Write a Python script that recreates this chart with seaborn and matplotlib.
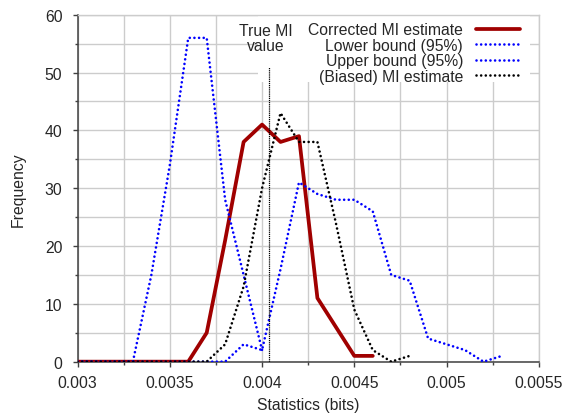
import numpy as np
import pandas as pd
import matplotlib
matplotlib.use("Agg")
import matplotlib.pyplot as plt
import seaborn as sns
from matplotlib.ticker import FixedLocator, FuncFormatter
from matplotlib.patches import Rectangle

#---------Data----------------------------------
corrected_x = [0.003, 0.0031, 0.0032, 0.0033, 0.0034, 0.0035, 0.0036, 0.0037, 0.0038,
               0.0039, 0.004, 0.0041, 0.0042, 0.0043, 0.0044, 0.0045, 0.0046]
corrected_y = [0, 0, 0, 0, 0, 0, 0, 5, 21, 38, 41, 38, 39, 11, 6, 1, 1]

lower_x = [0.003, 0.0031, 0.0032, 0.0033, 0.0034, 0.0035, 0.0036, 0.0037, 0.0038,
           0.0039, 0.004]
lower_y = [0, 0, 0, 0, 15, 34, 56, 56, 28, 15, 2]

upper_x = [0.003, 0.0031, 0.0032, 0.0033, 0.0034, 0.0035, 0.0036, 0.0037, 0.0038,
           0.0039, 0.004, 0.0041, 0.0042, 0.0043, 0.0044, 0.0045, 0.0046, 0.0047,
           0.0048, 0.0049, 0.005, 0.0051, 0.0052, 0.0053]
upper_y = [0, 0, 0, 0, 0, 0, 0, 0, 0, 3, 2, 16, 31, 29, 28, 28, 26, 15, 14, 4, 3, 2, 0, 1]

biased_x = [0.003, 0.0031, 0.0032, 0.0033, 0.0034, 0.0035, 0.0036, 0.0037, 0.0038,
            0.0039, 0.004, 0.0041, 0.0042, 0.0043, 0.0044, 0.0045, 0.0046, 0.0047, 0.0048]
biased_y = [0, 0, 0, 0, 0, 0, 0, 0, 3, 13, 30, 43, 38, 38, 24, 9, 2, 0, 1]

true_mi = 0.00404
true_mi_line_top = 51

labels = ["Corrected MI estimate", "Lower bound (95%)", "Upper bound (95%)", "(Biased) MI estimate"]
xticks = [0.003, 0.0035, 0.004, 0.0045, 0.005, 0.0055]
yticks = [0, 10, 20, 30, 40, 50, 60]

#---------Style-----------
sns.set_style("white")
plt.rcParams["font.family"] = ["Liberation Sans", "DejaVu Sans"]
plt.rcParams["font.size"] = 11.3

fig = plt.figure(figsize=(5.66, 4.14), dpi=100)
ax = fig.add_axes([0.137, 0.124, 0.815, 0.838])

dots = (0, (0.01, 1.75))
dot_kw = dict(lw=1.9, linestyle=dots, dash_capstyle="round", zorder=4)

sns.lineplot(data=pd.DataFrame({"x": corrected_x, "y": corrected_y}), x="x", y="y",
             ax=ax, color="#a00000", lw=2.7, label=labels[0], zorder=3)
sns.lineplot(data=pd.DataFrame({"x": lower_x, "y": lower_y}), x="x", y="y",
             ax=ax, color="#0000ff", label=labels[1], **dot_kw)
sns.lineplot(data=pd.DataFrame({"x": upper_x, "y": upper_y}), x="x", y="y",
             ax=ax, color="#0000ff", label=labels[2], **dot_kw)
sns.lineplot(data=pd.DataFrame({"x": biased_x, "y": biased_y}), x="x", y="y",
             ax=ax, color="black", label=labels[3], **dot_kw)

#---------True MI marker-----------
ax.plot([true_mi, true_mi], [0, true_mi_line_top], color="black", lw=0.9,
        linestyle=(0, (1, 0.7)), zorder=5)
ax.text(true_mi - 0.00002, 56, "True MI\nvalue", ha="center", va="center",
        fontsize=11.3, linespacing=1.0, zorder=6)

#---------Axes-----------
ax.set_xlim(0.003, 0.0055)
ax.set_ylim(0, 60)
ax.xaxis.set_major_locator(FixedLocator(xticks))
ax.xaxis.set_minor_locator(FixedLocator(np.arange(0.003, 0.00551, 0.00025)))
ax.yaxis.set_major_locator(FixedLocator(yticks))
ax.yaxis.set_minor_locator(FixedLocator(np.arange(0, 61, 5)))
ax.xaxis.set_major_formatter(FuncFormatter(lambda v, p: "%g" % round(v, 5)))

ax.set_axisbelow(True)
ax.grid(True, which="both", color="#cccccc", lw=1.0)
ax.tick_params(which="major", direction="out", length=3.4, width=1, color="#404040",
               labelsize=11.3)
ax.tick_params(which="minor", direction="out", length=2, width=1, color="#404040")
ax.tick_params(axis="x", which="both", bottom=True)
ax.tick_params(axis="x", which="major", pad=6.3)
ax.tick_params(axis="y", which="both", left=True)
ax.tick_params(axis="y", which="major", pad=7.5)

for side in ["left", "bottom"]:
    ax.spines[side].set_color("#404040")
    ax.spines[side].set_linewidth(1.1)
for side in ["top", "right"]:
    ax.spines[side].set_color("#cccccc")
    ax.spines[side].set_linewidth(1.0)

ax.set_xlabel("Statistics (bits)", fontsize=11.3, labelpad=4.7)
ax.set_ylabel("Frequency", fontsize=11.3, labelpad=13.6)

#---------Legend (opaque key area)-----------
ax.add_patch(Rectangle((0.391, 0.806), 0.589, 0.194, transform=ax.transAxes,
                       facecolor="white", edgecolor="none", zorder=1))

leg = ax.legend(loc="upper right", bbox_to_anchor=(0.960, 0.979), frameon=False,
                markerfirst=False, handlelength=2.8, handletextpad=0.85,
                labelspacing=0.04, borderpad=0, borderaxespad=0, fontsize=11.3)
leg.set_zorder(2)

fig.savefig("out.png", dpi=100)
